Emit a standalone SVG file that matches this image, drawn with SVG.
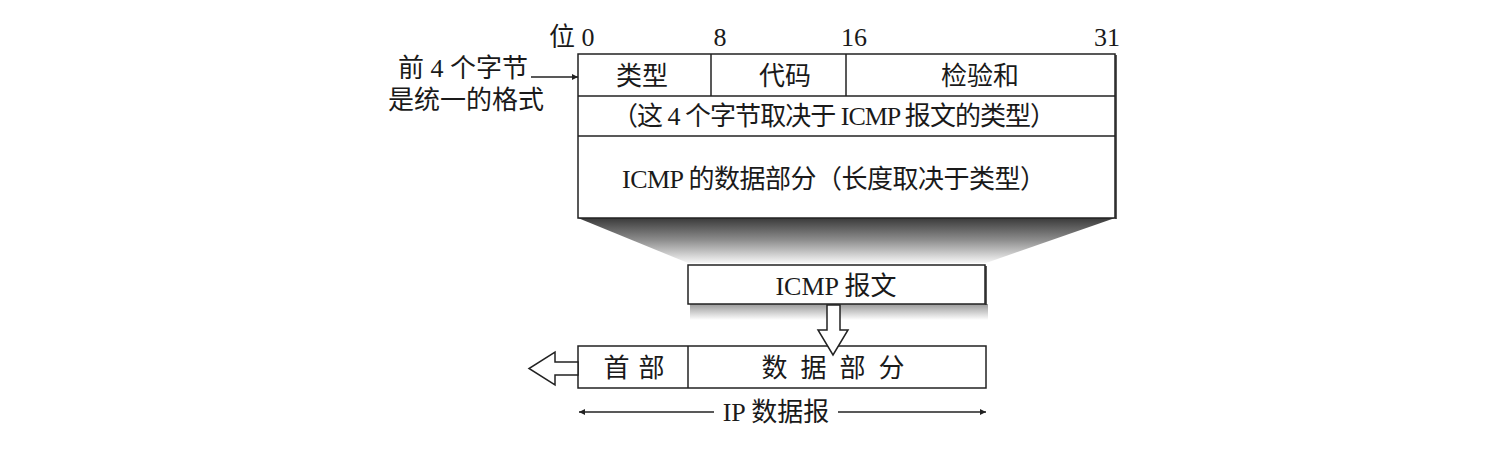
<svg xmlns="http://www.w3.org/2000/svg" width="1498" height="467" viewBox="0 0 1498 467">
<style>
text{font-family:"Liberation Serif","Noto Sans CJK SC",serif;fill:#1a1a1a;font-size:26px}
.c{text-anchor:middle}
.box{fill:#fff;stroke:#222;stroke-width:1.5}
.ln{stroke:#222;stroke-width:1.5;fill:none}
.hollow{fill:#fff;stroke:#222;stroke-width:1.5;stroke-linejoin:miter}
</style>
<defs>
<linearGradient id="shade" x1="0" y1="0" x2="0" y2="1">
<stop offset="0" stop-color="#3a3a3a"/>
<stop offset="0.5" stop-color="#8f8f8f"/>
<stop offset="1" stop-color="#f6f6f6"/>
</linearGradient>
<linearGradient id="shade2" x1="0" y1="0" x2="0" y2="1">
<stop offset="0" stop-color="#9a9a9a"/>
<stop offset="1" stop-color="#ffffff"/>
</linearGradient>
<marker id="ah" viewBox="0 0 10 10" refX="10" refY="5" markerWidth="8" markerHeight="6" orient="auto-start-reverse" markerUnits="userSpaceOnUse">
<path d="M0,0 L10,5 L0,10 z" fill="#222"/>
</marker>
</defs>
<rect width="1498" height="467" fill="#fff"/>

<g id="bit-labels">
<text x="549" y="46">位 0</text>
<text class="c" x="720" y="46">8</text>
<text class="c" x="854" y="46">16</text>
<text class="c" x="1107" y="46">31</text>
</g>

<g id="note">
<text class="c" x="463" y="77">前 4 个字节</text>
<text class="c" x="466" y="109">是统一的格式</text>
</g>

<g id="shadow">
<polygon points="578,218 1115,218 986,263 688,263" fill="url(#shade)"/>
</g>

<g id="icmp-format">
<rect class="box" x="578" y="54" width="537" height="164"/>
<line class="ln" x1="1116" y1="55" x2="1116" y2="219" stroke-width="3"/>
<line class="ln" x1="578" y1="96" x2="1115" y2="96"/>
<line class="ln" x1="578" y1="136" x2="1115" y2="136"/>
<line class="ln" x1="711" y1="54" x2="711" y2="96"/>
<line class="ln" x1="846" y1="54" x2="846" y2="96"/>
<text class="c" x="642" y="85">类型</text>
<text class="c" x="785" y="85">代码</text>
<text class="c" x="980" y="85">检验和</text>
<text class="c" x="834" y="125" textLength="444" lengthAdjust="spacing">（这 4 个字节取决于 ICMP 报文的类型）</text>
<text class="c" x="834" y="188" textLength="424" lengthAdjust="spacing">ICMP 的数据部分（长度取决于类型）</text>
</g>

<g id="icmp-msg">
<rect x="690" y="304" width="298" height="16" fill="url(#shade2)"/>
<rect class="box" x="688" y="265" width="297" height="39"/>
<line class="ln" x1="986" y1="266" x2="986" y2="305" stroke-width="3"/>
<text class="c" x="836" y="295">ICMP 报文</text>
</g>

<g id="ip-datagram">
<rect class="box" x="578" y="346" width="408" height="42"/>
<line class="ln" x1="688" y1="346" x2="688" y2="388"/>
<text class="c" x="634" y="377" textLength="61" lengthAdjust="spacing">首 部</text>
<text class="c" x="833" y="377" textLength="143" lengthAdjust="spacing">数 据 部 分</text>
</g>

<g id="connectors">
<line class="ln" x1="531" y1="77" x2="578" y2="77" marker-end="url(#ah)"/>
<polygon class="hollow" points="827,305 840,305 840,330 848,330 833,355 818,330 827,330"/>
<polygon class="hollow" points="578,362 555,362 555,352 529,368.5 555,385 555,375 578,375"/>
<line class="ln" x1="579" y1="412" x2="714" y2="412" marker-start="url(#ah)"/>
<line class="ln" x1="838" y1="412" x2="986" y2="412" marker-end="url(#ah)"/>
<text class="c" x="776" y="421">IP 数据报</text>
</g>
</svg>
